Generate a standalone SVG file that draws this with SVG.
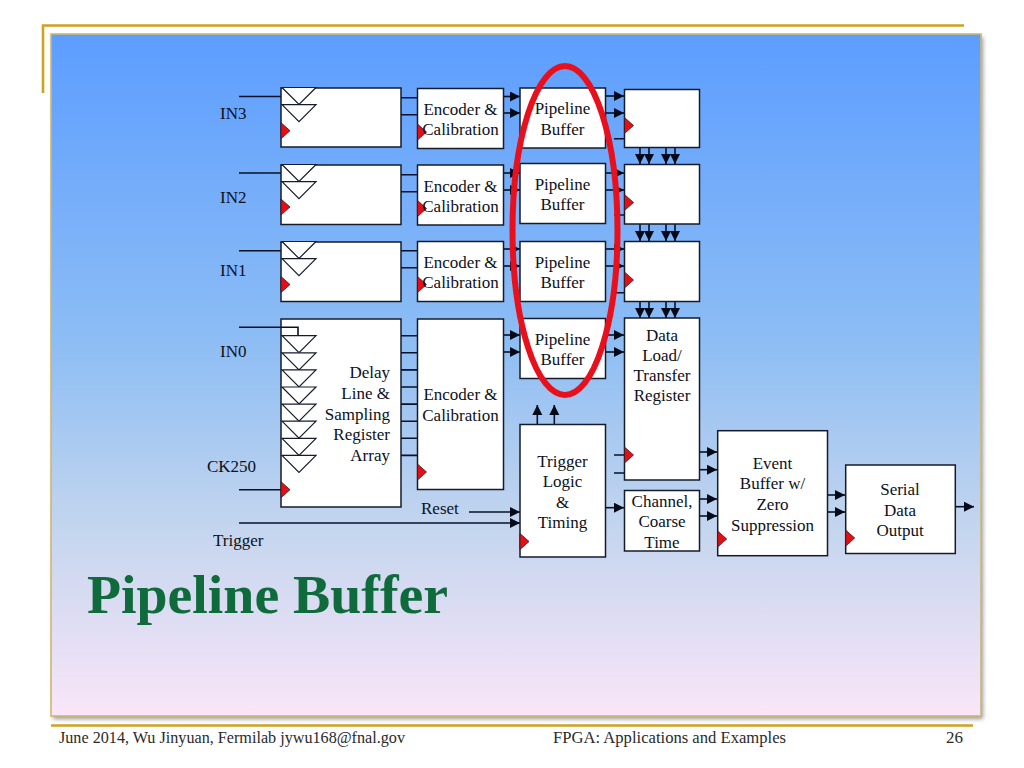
<svg xmlns="http://www.w3.org/2000/svg" width="1024" height="768" viewBox="0 0 1024 768">
<style>
.box{fill:#fff;stroke:#141c2b;stroke-width:1.5}
.tri{fill:#fff;stroke:#141c2b;stroke-width:1.2}
.clk{fill:#e30f14;stroke:#3a1a20;stroke-width:.8}
.ln{fill:none;stroke:#06122a;stroke-width:1.6}
.ar{fill:none;stroke:#06122a;stroke-width:1.6;marker-end:url(#ah)}
.rule{fill:none;stroke:#cda31f;stroke-width:2.6}
text{font-family:"Liberation Serif","Times New Roman",serif;font-size:17px;fill:#0c111a}
.c{text-anchor:middle}
.r{text-anchor:end}
.foot{fill:#2a2a2a}
.title{font-size:55px;font-weight:bold;fill:#0f6a3c}
</style>
<defs>
<linearGradient id="bg" x1="0" y1="0" x2="0" y2="1">
<stop offset="0" stop-color="#5c9dff"/><stop offset=".45" stop-color="#8dbdf4"/><stop offset=".72" stop-color="#c3d5ee"/><stop offset="1" stop-color="#f9e6f8"/>
</linearGradient>
<marker id="ah" markerUnits="userSpaceOnUse" markerWidth="11" markerHeight="11" refX="10" refY="5" orient="auto"><path d="M0 0L10 5L0 10Z" fill="#040a18"/></marker>
<filter id="sh" x="-2%" y="-2%" width="104%" height="104%"><feGaussianBlur stdDeviation="2"/></filter>
<polygon id="t" class="tri" points="0,0 34,0 17,17"/>
<polygon id="k" class="clk" points="0,-8 9,0 0,8"/>
</defs>
<rect width="1024" height="768" fill="#fff"/>
<g id="frame">
<rect x="53" y="37" width="930" height="682" fill="#999" filter="url(#sh)"/>
<rect x="51" y="34" width="930" height="682" fill="url(#bg)" stroke="#cdb771" stroke-width="1.6"/>
<path class="rule" d="M43 93V25.500H964M51 725.500H973"/>
</g>
<g id="connectors">
<path class="ln" d="M239 96.500H281M239 173H281M239 250.700H281M239 327.300H281M239 489.700H281"/>
<path class="ln" d="M401 97.700H417M401 114.700H417M401 174.700H417M401 191.700H417M401 250.700H417M401 267.700H417M401 335.700H417M401 352.800H417M401 369.900H417M401 387H417M401 404.100H417M401 421.200H417M401 438.300H417M401 455.400H417"/>
<path class="ar" d="M503 96.500H520"/><path class="ar" d="M503 113H520"/><path class="ar" d="M503 173H520"/><path class="ar" d="M503 190H520"/><path class="ar" d="M503 249H520"/><path class="ar" d="M503 266H520"/><path class="ar" d="M503 335H520"/><path class="ar" d="M503 352H520"/>
<path class="ar" d="M605 96H624"/><path class="ar" d="M605 113H624"/><path class="ar" d="M605 173H624"/><path class="ar" d="M605 190H624"/><path class="ar" d="M605 249H624"/><path class="ar" d="M605 266H624"/><path class="ar" d="M605 335H624"/><path class="ar" d="M605 352H624"/>
<path class="ln" d="M614 138.700H624M614 215H624M614 292.700H624M614 455H624M614 473H624"/>
<path class="ar" d="M640 147V164"/><path class="ar" d="M649 147V164"/><path class="ar" d="M666 147V164"/><path class="ar" d="M675 147V164"/>
<path class="ar" d="M640 224V241"/><path class="ar" d="M649 224V241"/><path class="ar" d="M666 224V241"/><path class="ar" d="M675 224V241"/>
<path class="ar" d="M640 301V318"/><path class="ar" d="M649 301V318"/><path class="ar" d="M666 301V318"/><path class="ar" d="M675 301V318"/>
<path class="ar" d="M537.300 424V405"/><path class="ar" d="M554.300 424V405"/>
<path class="ar" d="M469 512H520"/><path class="ar" d="M239 523H520"/>
<path class="ar" d="M605 507.700H624"/>
<path class="ar" d="M699 452H717"/><path class="ar" d="M699 469.700H717"/><path class="ar" d="M699 499H717"/><path class="ar" d="M699 516H717"/>
<path class="ar" d="M827 495H845"/><path class="ar" d="M827 512H845"/><path class="ar" d="M955 506.700H974"/>
</g>
<g id="labels">
<text x="220" y="119">IN3</text><text x="220" y="202.700">IN2</text><text x="220" y="276">IN1</text><text x="220" y="356.700">IN0</text>
<text x="207" y="471.700">CK250</text><text x="213" y="546">Trigger</text><text x="421" y="514">Reset</text>
</g>
<g id="delay3"><rect class="box" x="281" y="88" width="120" height="59"/><use href="#t" x="282" y="87.500"/><use href="#t" x="282" y="104.700"/><use href="#k" x="281" y="130.700"/></g>
<g id="delay2"><rect class="box" x="281" y="165" width="120" height="59.500"/><use href="#t" x="282" y="164.500"/><use href="#t" x="282" y="181.700"/><use href="#k" x="281" y="207"/></g>
<g id="delay1"><rect class="box" x="281" y="242" width="120" height="59.500"/><use href="#t" x="282" y="241.500"/><use href="#t" x="282" y="258.700"/><use href="#k" x="281" y="284.500"/></g>
<g id="delay0"><rect class="box" x="281" y="319" width="120" height="188"/>
<path class="ln" d="M281 327.300H298V336"/>
<use href="#t" x="282" y="335.700"/><use href="#t" x="282" y="352.800"/><use href="#t" x="282" y="369.900"/><use href="#t" x="282" y="387"/><use href="#t" x="282" y="404.100"/><use href="#t" x="282" y="421.200"/><use href="#t" x="282" y="438.300"/><use href="#t" x="282" y="455.400"/>
<use href="#k" x="281" y="489.700"/>
<text class="r" x="390" y="378">Delay</text><text class="r" x="390" y="399">Line &amp;</text><text class="r" x="390" y="420">Sampling</text><text class="r" x="390" y="440">Register</text><text class="r" x="390" y="460.700">Array</text></g>
<g id="enc3"><rect class="box" x="417.500" y="88.500" width="86" height="60"/><use href="#k" x="417.500" y="132"/><text class="c" x="460.500" y="115">Encoder &amp;</text><text class="c" x="460.500" y="135.300">Calibration</text></g>
<g id="enc2"><rect class="box" x="417.500" y="165" width="86" height="60"/><use href="#k" x="417.500" y="208.500"/><text class="c" x="460.500" y="192">Encoder &amp;</text><text class="c" x="460.500" y="212">Calibration</text></g>
<g id="enc1"><rect class="box" x="417.500" y="241.500" width="86" height="60"/><use href="#k" x="417.500" y="284.500"/><text class="c" x="460.500" y="267.700">Encoder &amp;</text><text class="c" x="460.500" y="288">Calibration</text></g>
<g id="enc0"><rect class="box" x="417.500" y="319" width="86" height="170.500"/><use href="#k" x="417.500" y="472"/><text class="c" x="460.500" y="400">Encoder &amp;</text><text class="c" x="460.500" y="420.700">Calibration</text></g>
<g id="pipe3"><rect class="box" x="520" y="88" width="85.500" height="60"/><text class="c" x="562.500" y="114">Pipeline</text><text class="c" x="562.500" y="134.700">Buffer</text></g>
<g id="pipe2"><rect class="box" x="520" y="163.500" width="85.500" height="60"/><text class="c" x="562.500" y="190">Pipeline</text><text class="c" x="562.500" y="210">Buffer</text></g>
<g id="pipe1"><rect class="box" x="520" y="241.500" width="85.500" height="60"/><text class="c" x="562.500" y="267.700">Pipeline</text><text class="c" x="562.500" y="288">Buffer</text></g>
<g id="pipe0"><rect class="box" x="520" y="318.500" width="85.500" height="60"/><text class="c" x="562.500" y="344.700">Pipeline</text><text class="c" x="562.500" y="365">Buffer</text></g>
<g id="reg3"><rect class="box" x="624.500" y="89.500" width="75" height="58"/><use href="#k" x="624.500" y="125.500"/></g>
<g id="reg2"><rect class="box" x="624.500" y="164.500" width="75" height="59.500"/><use href="#k" x="624.500" y="202.500"/></g>
<g id="reg1"><rect class="box" x="624.500" y="241.500" width="75" height="60"/><use href="#k" x="624.500" y="280"/></g>
<g id="dataload"><rect class="box" x="624.500" y="318" width="75" height="162"/><use href="#k" x="624.500" y="455"/><text class="c" x="662" y="340.700">Data</text><text class="c" x="662" y="361">Load/</text><text class="c" x="662" y="381">Transfer</text><text class="c" x="662" y="401">Register</text></g>
<g id="channel"><rect class="box" x="624.500" y="490.500" width="75" height="60.500"/><text class="c" x="662" y="506.700">Channel,</text><text class="c" x="662" y="527">Coarse</text><text class="c" x="662" y="547.700">Time</text></g>
<g id="trigger"><rect class="box" x="520" y="424.500" width="85.500" height="132.500"/><use href="#k" x="520" y="541.500"/><text class="c" x="562.500" y="466.700">Trigger</text><text class="c" x="562.500" y="487">Logic</text><text class="c" x="562.500" y="508">&amp;</text><text class="c" x="562.500" y="527.700">Timing</text></g>
<g id="event"><rect class="box" x="717.700" y="430.700" width="109.800" height="125"/><use href="#k" x="717.700" y="539"/><text class="c" x="772.500" y="469.300">Event</text><text class="c" x="772.500" y="489">Buffer w/</text><text class="c" x="772.500" y="510">Zero</text><text class="c" x="772.500" y="530.700">Suppression</text></g>
<g id="serial"><rect class="box" x="845.700" y="465" width="109.600" height="88.500"/><use href="#k" x="845.700" y="538"/><text class="c" x="900" y="495">Serial</text><text class="c" x="900" y="515.700">Data</text><text class="c" x="900" y="536">Output</text></g>
<g id="highlight"><ellipse cx="565" cy="230.500" rx="52.500" ry="164.500" fill="none" stroke="#e8101c" stroke-width="6"/></g>
<g id="text-title">
<text class="title" x="87" y="613" textLength="361" lengthAdjust="spacingAndGlyphs">Pipeline Buffer</text>
<text class="foot" x="59" y="743" textLength="346" lengthAdjust="spacingAndGlyphs">June 2014, Wu Jinyuan, Fermilab jywu168@fnal.gov</text>
<text class="foot" x="553" y="743" textLength="233" lengthAdjust="spacingAndGlyphs">FPGA: Applications and Examples</text>
<text class="foot" x="946" y="743">26</text>
</g>
</svg>
